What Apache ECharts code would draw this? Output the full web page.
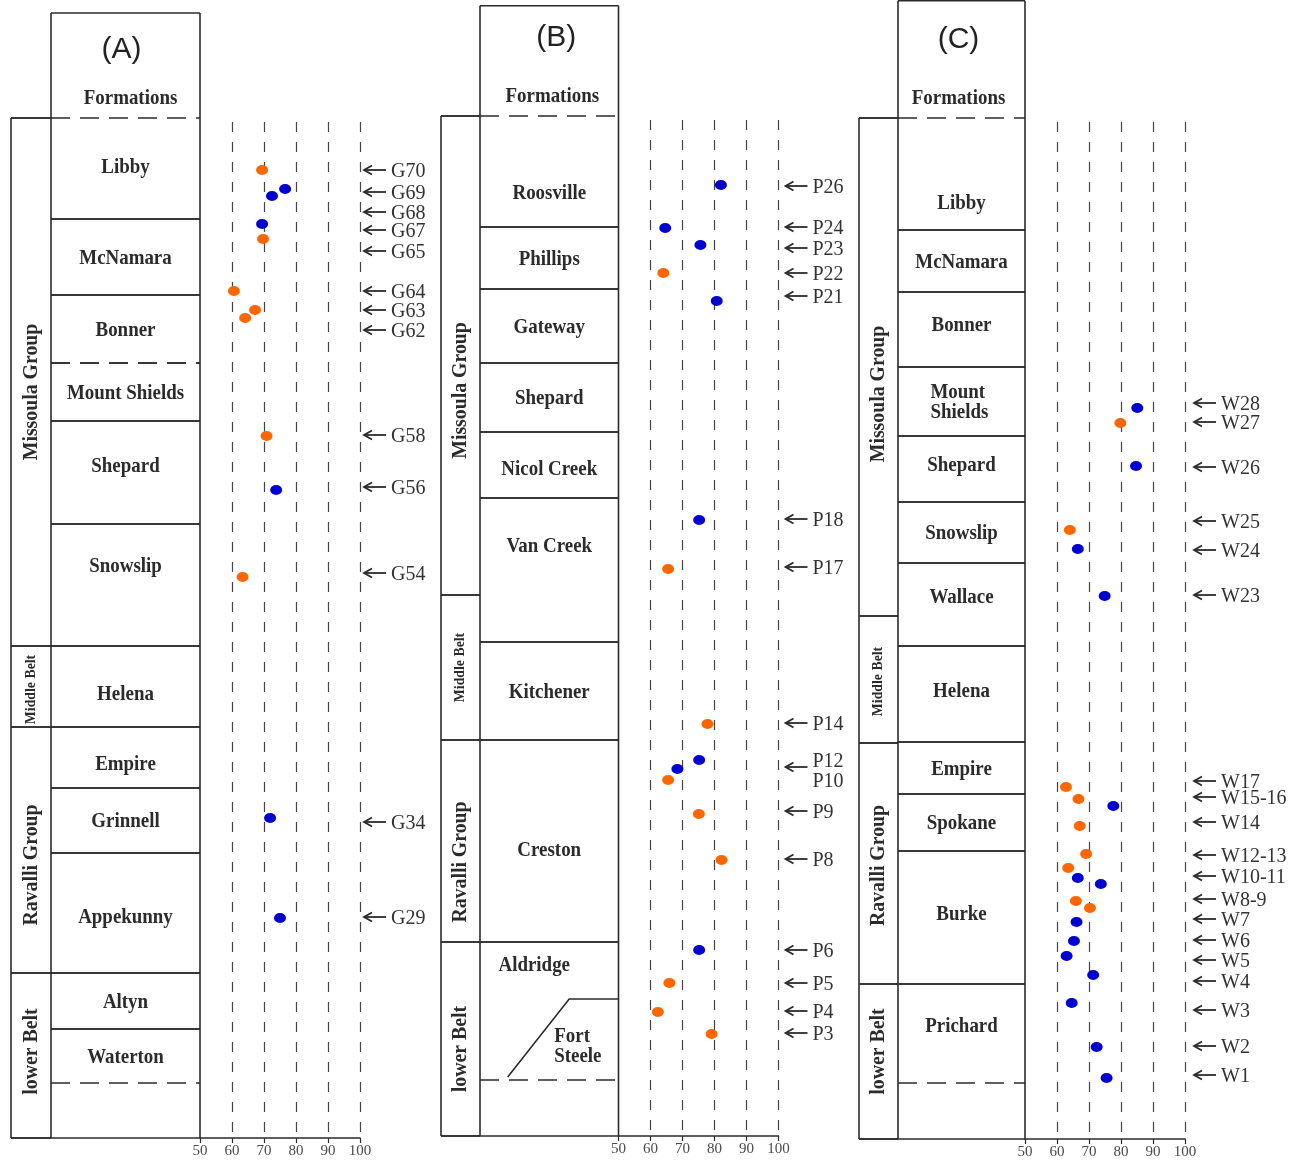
<!DOCTYPE html>
<html>
<head>
<meta charset="utf-8">
<script src="https://cdn.jsdelivr.net/npm/echarts@6/dist/echarts.min.js"></script>
<style>
  html, body { margin: 0; padding: 0; background: #fff; }
  #chart { width: 1304px; height: 1163px; }
</style>
</head>
<body>
<div id="chart"></div>
<script>
// Stratigraphic position is given as depth below the top of the formation column
// (section units); x values are the plotted index (50-100).

// ---------- Section (A) ----------
const formationsA = [
  ['Libby', 0, 101], ['McNamara', 101, 177], ['Bonner', 177, 245],
  ['Mount Shields', 245, 303], ['Shepard', 303, 406], ['Snowslip', 406, 528],
  ['Helena', 528, 609], ['Empire', 609, 670], ['Grinnell', 670, 735],
  ['Appekunny', 735, 855], ['Altyn', 855, 911], ['Waterton', 911, 965]
];
const dashedA = [0, 245, 965];
const groupsA = [
  ['Missoula Group', 0, 528], ['Middle Belt', 528, 609],
  ['Ravalli Group', 609, 855], ['lower Belt', 855, 1020]
];
const orangeA = [[69.4, 52], [69.7, 121], [60.6, 173], [67.2, 192], [64.1, 200], [70.8, 318], [63.3, 459]];
const blueA = [[76.6, 71], [72.5, 78], [69.4, 106], [73.8, 372], [71.9, 700], [75.0, 800]];
const samplesA = [
  ['G70', 52], ['G69', 74], ['G68', 94], ['G67', 112], ['G65', 133], ['G64', 173],
  ['G63', 192], ['G62', 212], ['G58', 317], ['G56', 369], ['G54', 455], ['G34', 704], ['G29', 799]
];

// ---------- Section (B) ----------
const formationsB = [
  ['Roosville', 0, 111], ['Phillips', 111, 173], ['Gateway', 173, 247],
  ['Shepard', 247, 316], ['Nicol Creek', 316, 382], ['Van Creek', 382, 526],
  ['Kitchener', 526, 624], ['Creston', 624, 826], ['Aldridge', 826, 964]
];
const dashedB = [0, 964];
// Fort Steele wedges out under the Aldridge: [name, top, bottom]
const wedgeB = ['Fort\nSteele', 883, 964];
// its upper contact: [fraction across formation column, depth]
const wedgeContactB = [[0.2, 961], [0.644, 883], [1, 883]];
const groupsB = [
  ['Missoula Group', 0, 479], ['Middle Belt', 479, 624],
  ['Ravalli Group', 624, 826], ['lower Belt', 826, 1020]
];
const orangeB = [[64.0, 157], [65.5, 453], [77.8, 608], [65.5, 664], [75.1, 698], [82.2, 744], [65.9, 867], [62.3, 896], [79.1, 918]];
const blueB = [[82.0, 69], [64.6, 112], [75.6, 129], [80.7, 185], [75.2, 404], [75.2, 644], [68.4, 653], [75.2, 834]];
// [label, label depth, arrow depth (null = no arrow)]
const samplesB = [
  ['P26', 70], ['P24', 111], ['P23', 132], ['P22', 157], ['P21', 180], ['P18', 403],
  ['P17', 451], ['P14', 607], ['P12', 644, 651], ['P10', 664, null], ['P9', 695],
  ['P8', 743], ['P6', 834], ['P5', 867], ['P4', 895], ['P3', 917]
];

// ---------- Section (C) ----------
const formationsC = [
  ['Libby', 0, 112], ['McNamara', 112, 174], ['Bonner', 174, 249],
  ['Mount\nShields', 249, 318], ['Shepard', 318, 384], ['Snowslip', 384, 445],
  ['Wallace', 445, 528], ['Helena', 528, 624], ['Empire', 624, 676],
  ['Spokane', 676, 733], ['Burke', 733, 866], ['Prichard', 866, 965]
];
const dashedC = [0, 965];
const groupsC = [
  ['Missoula Group', 0, 498], ['Middle Belt', 498, 625],
  ['Ravalli Group', 625, 866], ['lower Belt', 866, 1021]
];
const orangeC = [[79.8, 305], [64.0, 412], [62.8, 669], [66.7, 681], [67.1, 708], [69.1, 736], [63.5, 750], [65.9, 783], [70.3, 790]];
const blueC = [[85.1, 290], [84.7, 348], [66.5, 431], [74.9, 478], [77.6, 688], [66.5, 760], [73.7, 766],
  [66.1, 804], [65.3, 823], [63.0, 838], [71.3, 857], [64.6, 885], [72.4, 929], [75.5, 960]];
const samplesC = [
  ['W28', 285], ['W27', 304], ['W26', 349], ['W25', 403], ['W24', 432], ['W23', 477],
  ['W17', 663], ['W15-16', 679], ['W14', 704], ['W12-13', 737], ['W10-11', 758], ['W8-9', 781],
  ['W7', 801], ['W6', 822], ['W5', 842], ['W4', 863], ['W3', 892], ['W2', 928], ['W1', 957]
];

const xTicks = [50, 60, 70, 80, 90, 100];

// ---------- layout & styling ----------
const INK = '#2b2b2b';
const SERIF = '"Liberation Serif", "Times New Roman", serif';
const SANS = '"Liberation Sans", Arial, sans-serif';
const NAME_FONT = 'bold 22px ' + SERIF;
const NAME_SCALE = 0.86;
const ORANGE = '#ff6600';
const BLUE = '#0000d0';

const layout = {
  A: { groupLeft: 11, formLeft: 51, formRight: 200, top: 118, bottom: 1138, headerTop: 13,
       titleDepth: -68, titleDx: -4, headDx: 5, tipGap: 4 },
  B: { groupLeft: 441, formLeft: 480, formRight: 618.5, top: 116, bottom: 1136, headerTop: 5.7,
       titleDepth: -78, titleDx: 7, headDx: 3, tipGap: 7 },
  C: { groupLeft: 859, formLeft: 898, formRight: 1025, top: 118, bottom: 1139, headerTop: 0.7,
       titleDepth: -78, titleDx: -3, headDx: -3, tipGap: 9 }
};
const nameNudge = {
  A: { Libby: { dy: -2 }, Shepard: { dy: -7 }, Snowslip: { dy: -20 }, Helena: { dy: 7 }, Empire: { dy: 6 }, Appekunny: { dy: 3 } },
  B: { Roosville: { dy: 21 }, 'Nicol Creek': { dy: 3 }, 'Van Creek': { dy: -25 }, Creston: { dy: 8 },
       Aldridge: { dy: -47, dx: -15 }, 'Fort\nSteele': { dy: 6, dx: 5, align: 'left' } },
  C: { Libby: { dy: 28 }, Bonner: { dy: -5 }, Shepard: { dy: -5 }, Wallace: { dy: -8 }, Helena: { dy: -4 },
       Burke: { dy: -4 }, Prichard: { dy: -8 }, 'Mount\nShields': { dx: -31, align: 'left' } }
};
const groupNudge = {
  A: { 'Missoula Group': 10, 'Middle Belt': 3, 'Ravalli Group': 15, 'lower Belt': -4 },
  B: { 'Missoula Group': 35, 'Middle Belt': 0, 'Ravalli Group': 21, 'lower Belt': 10 },
  C: { 'Missoula Group': 27, 'Middle Belt': 2, 'Ravalli Group': 2, 'lower Belt': -10 }
};

const panels = [
  { key: 'A', title: '(A)', formations: formationsA, dashed: dashedA, groups: groupsA, orange: orangeA, blue: blueA, samples: samplesA },
  { key: 'B', title: '(B)', formations: formationsB, dashed: dashedB, groups: groupsB, orange: orangeB, blue: blueB, samples: samplesB,
    wedge: wedgeB, wedgeContact: wedgeContactB },
  { key: 'C', title: '(C)', formations: formationsC, dashed: dashedC, groups: groupsC, orange: orangeC, blue: blueC, samples: samplesC }
];

// ---------- drawing helpers ----------
function seg(x1, y1, x2, y2, dashed) {
  const style = { stroke: INK, lineWidth: 1.6 };
  if (dashed) style.lineDash = [19, 10];
  return { type: 'line', shape: { x1, y1, x2, y2 }, style };
}
function txt(text, x, y, opt) {
  return {
    type: 'text', x, y,
    rotation: opt.rotation || 0,
    scaleX: opt.scaleX || 1,
    style: {
      text, font: opt.font, fill: opt.color || INK,
      align: opt.align || 'center', verticalAlign: 'middle',
      lineHeight: opt.lineHeight || undefined
    }
  };
}

const grids = [], xAxes = [], yAxes = [], series = [];

panels.forEach((p, i) => {
  const L = layout[p.key];
  const groupWidth = L.formLeft - L.groupLeft;
  const maxDepth = L.bottom - L.top;
  const ci = i * 2, pi = i * 2 + 1;

  // column grid: x 0..1 across the group + formation columns, y = depth
  grids.push({ left: L.groupLeft, top: 0, width: L.formRight - L.groupLeft, height: L.bottom });
  xAxes.push({ type: 'value', gridIndex: ci, min: 0, max: 1, show: false });
  yAxes.push({ type: 'value', gridIndex: ci, inverse: true, min: -L.top, max: maxDepth, show: false });

  // plot grid: index 50..100 against the same depth scale
  grids.push({ left: L.formRight, top: L.top + 4, width: 160, height: maxDepth - 4 });
  xAxes.push({
    type: 'value', gridIndex: pi, min: xTicks[0], max: xTicks[xTicks.length - 1], interval: 10,
    axisLine: { show: true, onZero: false, lineStyle: { color: INK, width: 1.6 } },
    axisTick: { show: true, length: 5, lineStyle: { color: INK, width: 1.2 } },
    axisLabel: { color: '#4a4a4a', fontFamily: SERIF, fontSize: 15, margin: 6 },
    splitLine: { show: true, showMinLine: false, lineStyle: { type: [10, 10], color: '#444', width: 1.2 } }
  });
  yAxes.push({ type: 'value', gridIndex: pi, inverse: true, min: 4, max: maxDepth, show: false });

  // outer frame, title and header
  series.push({
    type: 'custom', xAxisIndex: ci, yAxisIndex: ci, silent: true,
    data: [[0.5, 0]],
    renderItem(params, api) {
      const cs = params.coordSys;
      const gx0 = cs.x, fx0 = cs.x + groupWidth, fx1 = cs.x + cs.width;
      const Y = d => api.coord([0.5, d])[1];
      const yHead = Y(L.headerTop - L.top), y0 = Y(0), yBot = Y(maxDepth);
      return {
        type: 'group', children: [
          seg(fx0, yHead, fx1, yHead),
          seg(fx0, yHead, fx0, yBot),
          seg(fx1, yHead, fx1, yBot),
          seg(gx0, y0, fx0, y0),
          seg(gx0, y0, gx0, yBot),
          seg(gx0, yBot, fx1, yBot),
          txt(p.title, (fx0 + fx1) / 2 + L.titleDx, Y(L.titleDepth), { font: '30px ' + SANS, color: '#222' }),
          txt('Formations', (fx0 + fx1) / 2 + L.headDx, Y(-20), { font: NAME_FONT, scaleX: NAME_SCALE })
        ]
      };
    }
  });

  // formations: contacts and names
  series.push({
    type: 'custom', xAxisIndex: ci, yAxisIndex: ci, silent: true,
    data: p.formations.map(f => [0.5, f[1], f[2]]),
    encode: { x: 0, y: [1, 2] },
    renderItem(params, api) {
      const f = p.formations[params.dataIndex];
      const cs = params.coordSys;
      const fx0 = cs.x + groupWidth, fx1 = cs.x + cs.width;
      const yt = api.coord([0.5, f[1]])[1], yb = api.coord([0.5, f[2]])[1];
      const n = nameNudge[p.key][f[0]] || {};
      const yc = api.coord([0.5, (f[1] + f[2]) / 2 + (n.dy || 0)])[1];
      return {
        type: 'group', children: [
          seg(fx0, yt, fx1, yt, p.dashed.includes(f[1])),
          seg(fx0, yb, fx1, yb, p.dashed.includes(f[2])),
          txt(f[0], (fx0 + fx1) / 2 + (n.dx || 0), yc + 1,
              { font: NAME_FONT, scaleX: NAME_SCALE, align: n.align, lineHeight: 20 })
        ]
      };
    }
  });

  // wedge-shaped unit (Fort Steele)
  if (p.wedge) {
    series.push({
      type: 'custom', xAxisIndex: ci, yAxisIndex: ci, silent: true,
      data: [[0.5, p.wedge[1], p.wedge[2]]],
      encode: { x: 0, y: [1, 2] },
      renderItem(params, api) {
        const cs = params.coordSys;
        const fx0 = cs.x + groupWidth, fx1 = cs.x + cs.width;
        const pts = p.wedgeContact.map(c => [fx0 + c[0] * (fx1 - fx0), api.coord([0.5, c[1]])[1]]);
        const n = nameNudge[p.key][p.wedge[0]] || {};
        const yc = api.coord([0.5, (p.wedge[1] + p.wedge[2]) / 2 + (n.dy || 0)])[1];
        return {
          type: 'group', children: [
            { type: 'polyline', shape: { points: pts }, style: { stroke: INK, lineWidth: 1.6, fill: null } },
            txt(p.wedge[0], (fx0 + fx1) / 2 + (n.dx || 0), yc + 1,
                { font: NAME_FONT, scaleX: NAME_SCALE, align: n.align, lineHeight: 20 })
          ]
        };
      }
    });
  }

  // groups column
  series.push({
    type: 'custom', xAxisIndex: ci, yAxisIndex: ci, silent: true,
    data: p.groups.map(g => [0.5, g[1], g[2]]),
    encode: { x: 0, y: [1, 2] },
    renderItem(params, api) {
      const g = p.groups[params.dataIndex];
      const cs = params.coordSys;
      const gx0 = cs.x, fx0 = cs.x + groupWidth;
      const yt = api.coord([0.5, g[1]])[1], yb = api.coord([0.5, g[2]])[1];
      const yc = api.coord([0.5, (g[1] + g[2]) / 2 + (groupNudge[p.key][g[0]] || 0)])[1];
      const small = g[0] === 'Middle Belt';
      return {
        type: 'group', children: [
          seg(gx0, yt, fx0, yt),
          seg(gx0, yb, fx0, yb),
          txt(g[0], (gx0 + fx0) / 2, yc, {
            font: 'bold ' + (small ? 15 : 22) + 'px ' + SERIF,
            rotation: Math.PI / 2, scaleX: small ? 0.92 : 0.9
          })
        ]
      };
    }
  });

  // analyses
  series.push({
    type: 'scatter', xAxisIndex: pi, yAxisIndex: pi, data: p.orange,
    symbol: 'circle', symbolSize: [12, 10], itemStyle: { color: ORANGE, opacity: 1 }, silent: true
  });
  series.push({
    type: 'scatter', xAxisIndex: pi, yAxisIndex: pi, data: p.blue,
    symbol: 'circle', symbolSize: [12, 10], itemStyle: { color: BLUE, opacity: 1 }, silent: true
  });

  // sample labels with arrows
  series.push({
    type: 'custom', xAxisIndex: pi, yAxisIndex: pi, silent: true,
    data: p.samples.map(s => [100, s[1]]),
    renderItem(params, api) {
      const s = p.samples[params.dataIndex];
      const cs = params.coordSys;
      const xr = cs.x + cs.width;
      const tip = xr + L.tipGap, tail = tip + 22;
      const yText = api.coord([100, s[1]])[1];
      const kids = [];
      const arrowDepth = s.length > 2 ? s[2] : s[1];
      if (arrowDepth !== null) {
        const ya = api.coord([100, arrowDepth])[1];
        kids.push({ type: 'line', shape: { x1: tail, y1: ya, x2: tip + 1, y2: ya }, style: { stroke: INK, lineWidth: 1.8 } });
        kids.push({ type: 'polyline', shape: { points: [[tip + 8, ya - 4.5], [tip, ya], [tip + 8, ya + 4.5]] },
                    style: { stroke: INK, lineWidth: 1.8, fill: null } });
      }
      kids.push(txt(s[0], tail + 5, yText + 1.5, { font: '20px ' + SERIF, color: '#333', align: 'left' }));
      return { type: 'group', children: kids };
    }
  });
});

const chart = echarts.init(document.getElementById('chart'), null, { renderer: 'canvas' });
chart.setOption({
  backgroundColor: '#fff',
  animation: false,
  grid: grids,
  xAxis: xAxes,
  yAxis: yAxes,
  series
});
</script>
</body>
</html>
